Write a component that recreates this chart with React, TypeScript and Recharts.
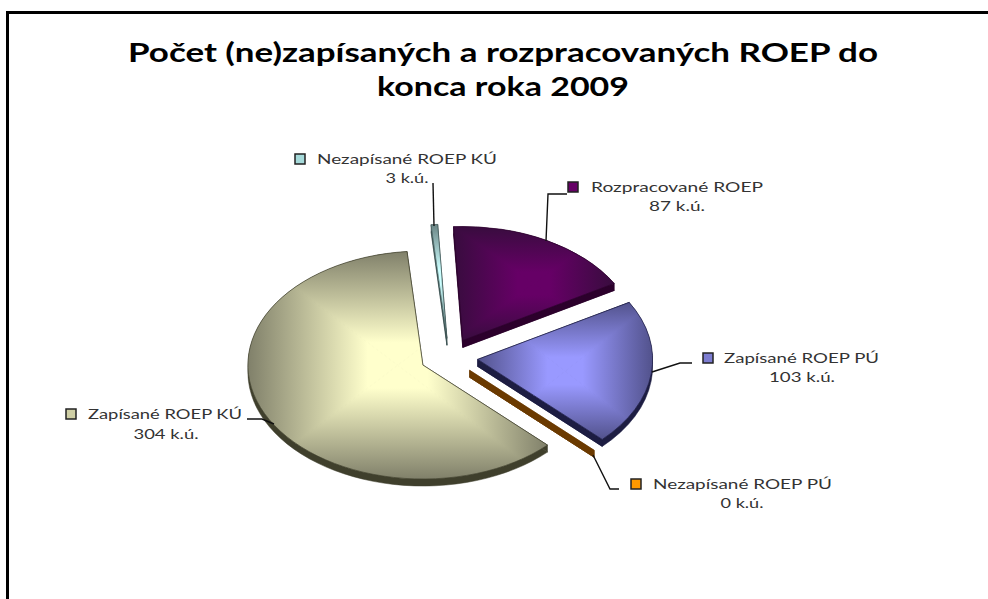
import { PieChart, Pie } from 'recharts'

const TITLE_LINES = ['Počet (ne)zapísaných a rozpracovaných ROEP do', 'konca roka 2009']
const CATEGORIES = [
  'Nezapísané ROEP KÚ',
  'Rozpracované ROEP',
  'Zapísané ROEP PÚ',
  'Nezapísané ROEP PÚ',
  'Zapísané ROEP KÚ',
]
const VALUES = [3, 87, 103, 0, 304]
const UNIT = 'k.ú.'

const data = CATEGORIES.map((name, i) => ({ name, value: VALUES[i] }))

// Colours of each slice: centre of the face, edge of the face, side wall, legend key
const FACE_LIGHT = ['#CCFFFF', '#660066', '#9999FF', '#FF9900', '#FFFFCC']
const FACE_DARK = ['#6A8585', '#380C3E', '#52528C', '#855000', '#80806A']
const SIDE = ['#3F5555', '#2C002C', '#1D1D42', '#6B3A00', '#3F3F2C']
const KEY = ['#A6DADA', '#660066', '#7C7CD0', '#FF9900', '#CFCFA5']

// Fake 3D: the pie is tilted and every slice is pulled away from the centre
const SQUASH = 114 / 175
const EXPLODE = 0.165
const DEPTH = 7

// Where the callouts go: leader polyline, key, text widths and text centres
const CALLOUTS = [
  { line: '433,183 434,226', keyX: 295, keyY: 154, textX: 317, textW: 180, textY: 164, subX: 407, subY: 183, subW: 43 },
  { line: '567,194 548,194 546,241', keyX: 568, keyY: 182, textX: 591, textW: 172, textY: 192, subX: 677, subY: 211, subW: 56 },
  { line: '652,372 680,363 692,363', keyX: 703, keyY: 353, textX: 724, textW: 155, textY: 363, subX: 802, subY: 382, subW: 66 },
  { line: '593,455 610,489 619,489', keyX: 631, keyY: 479, textX: 653, textW: 179, textY: 489, subX: 742, subY: 508, subW: 43 },
  { line: '247,419 262,419 274,424', keyX: 66, keyY: 409, textX: 88, textW: 154, textY: 419, subX: 166, subY: 439, subW: 65 },
]

const RAD = Math.PI / 180

const Slice = (props: any) => {
  const { cx, cy, outerRadius: r, startAngle, endAngle, index } = props
  const ry = r * SQUASH
  const mid = ((startAngle + endAngle) / 2) * RAD
  const ax = cx + r * EXPLODE * Math.cos(mid)
  const ay = cy - ry * EXPLODE * Math.sin(mid)
  const at = (deg: number) => [ax + r * Math.cos(deg * RAD), ay - ry * Math.sin(deg * RAD)]
  const [x0, y0] = at(startAngle)
  const [x1, y1] = at(endAngle)
  const large = startAngle - endAngle > 180 ? 1 : 0
  const face = (d: number) =>
    `M${ax},${ay + d}L${x0},${y0 + d}A${r},${ry} 0 ${large} 1 ${x1},${y1 + d}Z`
  const wall = (x: number, y: number) =>
    `M${ax},${ay}L${x},${y}L${x},${y + DEPTH}L${ax},${ay + DEPTH}Z`

  // bounding box of the face, for the rectangular gradient
  const xs = [ax]
  const ys = [ay]
  for (let a = startAngle; a >= endAngle; a -= 1) {
    const [x, y] = at(a)
    xs.push(x)
    ys.push(y)
  }
  xs.push(x1)
  ys.push(y1)
  const left = Math.min(...xs)
  const right = Math.max(...xs)
  const top = Math.min(...ys)
  const bottom = Math.max(...ys)
  const fx = (left + right) / 2
  const fy = (top + bottom) / 2
  const quads = [
    { id: 't', ex: fx, ey: top, pts: `${fx},${fy} ${left},${top} ${right},${top}` },
    { id: 'r', ex: right, ey: fy, pts: `${fx},${fy} ${right},${top} ${right},${bottom}` },
    { id: 'b', ex: fx, ey: bottom, pts: `${fx},${fy} ${right},${bottom} ${left},${bottom}` },
    { id: 'l', ex: left, ey: fy, pts: `${fx},${fy} ${left},${bottom} ${left},${top}` },
  ]
  const flat = startAngle - endAngle < 0.01

  return (
    <g>
      <path d={face(DEPTH)} fill={SIDE[index]} stroke={SIDE[index]} strokeWidth={0.5} />
      <path d={wall(x0, y0)} fill={SIDE[index]} stroke={SIDE[index]} strokeWidth={0.5} />
      <path d={wall(x1, y1)} fill={SIDE[index]} stroke={SIDE[index]} strokeWidth={0.5} />
      {!flat && (
        <>
          <defs>
            <clipPath id={`face-${index}`}>
              <path d={face(0)} />
            </clipPath>
            {quads.map((q) => (
              <linearGradient
                key={q.id}
                id={`grad-${index}-${q.id}`}
                gradientUnits="userSpaceOnUse"
                x1={fx}
                y1={fy}
                x2={q.ex}
                y2={q.ey}
              >
                <stop offset="20%" stopColor={FACE_LIGHT[index]} />
                <stop offset="100%" stopColor={FACE_DARK[index]} />
              </linearGradient>
            ))}
          </defs>
          <path d={face(0)} fill={FACE_DARK[index]} />
          <g clipPath={`url(#face-${index})`}>
            {quads.map((q) => (
              <polygon
                key={q.id}
                points={q.pts}
                fill={`url(#grad-${index}-${q.id})`}
                stroke={`url(#grad-${index}-${q.id})`}
                strokeWidth={1}
              />
            ))}
          </g>
          <path d={face(0)} fill="none" stroke={SIDE[index]} strokeWidth={0.7} />
        </>
      )}
    </g>
  )
}

const Callout = (props: any) => {
  const { index, name, value } = props
  const c = CALLOUTS[index]
  const textProps = {
    fontFamily: 'Lato',
    fontSize: 14,
    fill: '#333333',
    lengthAdjust: 'spacingAndGlyphs' as const,
  }
  return (
    <g>
      <polyline points={c.line} fill="none" stroke="#111111" strokeWidth={1.4} />
      <rect x={c.keyX} y={c.keyY} width={10} height={10} fill={KEY[index]} stroke="#222222" strokeWidth={1.5} />
      <text x={c.textX} y={c.textY} textLength={c.textW} {...textProps}>
        {name}
      </text>
      <text x={c.subX} y={c.subY} textAnchor="middle" textLength={c.subW} {...textProps}>
        {`${value} ${UNIT}`}
      </text>
    </g>
  )
}

const App = () => (
  <div style={{ position: 'absolute', left: 0, top: 0, width: 988, height: 599, background: '#fff', overflow: 'hidden' }}>
    <div
      style={{
        position: 'absolute',
        left: 6,
        top: 11,
        width: 990,
        height: 600,
        borderLeft: '3px solid #000',
        borderTop: '3px solid #000',
      }}
    />
    <PieChart width={988} height={599} margin={{ top: 0, right: 0, bottom: 0, left: 0 }} style={{ position: 'absolute' }}>
      <text
        x={503}
        y={62}
        textAnchor="middle"
        textLength={750}
        lengthAdjust="spacingAndGlyphs"
        fontFamily="Lato"
        fontWeight={700}
        fontSize={27}
        fill="#000"
      >
        {TITLE_LINES[0]}
      </text>
      <text
        x={503}
        y={96}
        textAnchor="middle"
        textLength={252}
        lengthAdjust="spacingAndGlyphs"
        fontFamily="Lato"
        fontWeight={700}
        fontSize={27}
        fill="#000"
      >
        {TITLE_LINES[1]}
      </text>
      <Pie
        data={data}
        dataKey="value"
        nameKey="name"
        cx={449}
        cy={357}
        outerRadius={175}
        startAngle={95.2}
        endAngle={-264.8}
        stroke="none"
        shape={Slice}
        label={Callout}
        labelLine={false}
        isAnimationActive={false}
      />
    </PieChart>
  </div>
)

export default App
